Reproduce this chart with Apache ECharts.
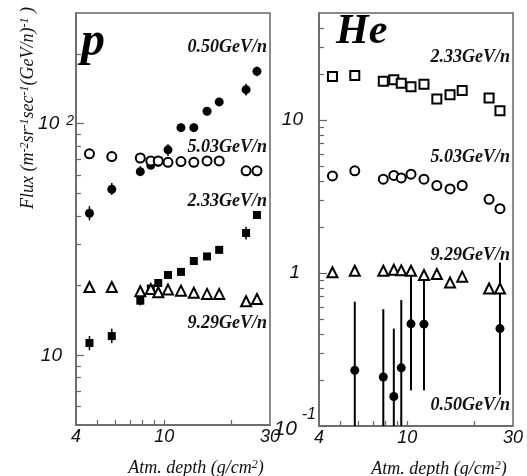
<!DOCTYPE html>
<html>
<head>
<meta charset="utf-8">
<script src="https://cdn.jsdelivr.net/npm/echarts@6/dist/echarts.min.js"></script>
<style>
  html, body { margin: 0; padding: 0; background: #fff; }
  #chart { width: 527px; height: 476px; }
</style>
</head>
<body>
<div id="chart"></div>
<script>
// Atmospheric depth of each measurement (g/cm^2)
const depth = [4.6, 5.8, 7.8, 8.7, 9.4, 10.4, 11.9, 13.6, 15.6, 17.7, 23.4, 26.2];

// Proton flux, m^-2 sr^-1 s^-1 (GeV/n)^-1
const pFlux050   = [41, 52, 62, 66, 68, 77, 96, 96, 113, 124, 140, 168];
const pFlux050Lo = [38.2, 49.2, 59.4, 64.3, 66, 72.5, 92.2, 92.7, 108.6, 119.2, 132, 160];
const pFlux050Hi = [44, 55.4, 65.5, 68.2, 70, 81.5, 99.7, 100.2, 117.6, 129, 148.5, 176];
const pFlux503   = [74, 72, 71, 69, 69, 68, 68.5, 68, 69, 69, 62.5, 62.5];
const pFlux233   = [11.3, 12.1, 17.2, 19.4, 20.5, 22.2, 22.9, 25.5, 26.7, 28.5, 33.7, 40.3];
const pFlux233Lo = [10.5, 11.3, 16.4, 18.9, 20, 21.6, 22.3, 24.8, 26, 27.8, 31.6, 38.8];
const pFlux233Hi = [12.1, 13, 18.1, 19.9, 21, 22.8, 23.5, 26.2, 27.4, 29.2, 35.9, 41.8];
const pFlux929   = [19.7, 19.7, 18.9, 19.3, 18.7, 19.2, 19.0, 18.6, 18.4, 18.4, 17.1, 17.5];

// Helium flux
const heFlux233 = [19.2, 19.5, 17.9, 18.3, 17.4, 16.5, 17.1, 13.7, 14.6, 15.6, 13.9, 11.5];
const heFlux503 = [4.31, 4.65, 4.10, 4.34, 4.18, 4.42, 4.10, 3.73, 3.54, 3.73, 3.03, 2.63];
const heFlux929 = [1.01, 1.035, 1.035, 1.05, 1.04, 1.035, 0.97, 0.985, 0.867, 0.946, 0.792, 0.792];
const heDepth050  = [5.8, 7.8, 8.7, 9.4, 10.4, 11.9, 26.2];
const heFlux050   = [0.231, 0.209, 0.156, 0.240, 0.465, 0.463, 0.433];
const heFlux050Lo = [0.1, 0.1, 0.1, 0.1, 0.171, 0.171, 0.160];
const heFlux050Hi = [0.649, 0.58, 0.433, 0.665, 1.01, 1.0, 1.17];

// Axis ticks and labels
const xLabels = [4, 10, 30];
const xTicks = [5, 6, 7, 8, 9, 10, 20];
const pMajor = [10, 100];
const pMinor = [6, 7, 8, 9, 20, 30, 40, 50, 60, 70, 80, 90, 200];
const heMajor = [0.1, 1, 10];
const heMinor = [0.2, 0.3, 0.4, 0.5, 0.6, 0.7, 0.8, 0.9, 2, 3, 4, 5, 6, 7, 8, 9, 20, 30, 40];

const seriesNames = ['0.50GeV/n', '5.03GeV/n', '2.33GeV/n', '9.29GeV/n'];

const AXIS = '#666';
const SERIF = '"Liberation Serif", "Times New Roman", serif';
const SANS = '"Liberation Sans", Arial, sans-serif';

const pairs = (xs, ys) => xs.map((x, i) => [x, ys[i]]);

function xAxisFor(gridIndex) {
  return {
    type: 'log', gridIndex, min: 4, max: 30, logBase: 10,
    axisLine: { show: true, lineStyle: { color: AXIS, width: 1.5 } },
    axisTick: { show: true, inside: true, length: 5, customValues: xTicks, lineStyle: { color: AXIS, width: 1.2 } },
    minorTick: { show: false },
    splitLine: { show: false },
    axisLabel: {
      customValues: xLabels, margin: 3, color: '#111',
      fontFamily: SANS, fontStyle: 'italic', fontSize: 18
    },
    name: 'Atm. depth (g/cm{s|2})',
    nameLocation: 'middle', nameGap: 34,
    nameTextStyle: {
      fontFamily: SERIF, fontStyle: 'italic', fontSize: 18, color: '#111',
      padding: [0, 0, 0, 46],
      rich: { s: { fontFamily: SERIF, fontSize: 12, verticalAlign: 'top', color: '#111' } }
    }
  };
}

const labelRich = {
  b: { fontFamily: SANS, fontStyle: 'italic', fontSize: 19, color: '#111' },
  s: { fontFamily: SANS, fontStyle: 'italic', fontSize: 14, color: '#111', verticalAlign: 'top', padding: [0, 0, 0, 7] },
  p10: { fontFamily: SANS, fontStyle: 'italic', fontSize: 19, color: '#111', padding: [0, 12, 0, 0] },
  h10: { fontFamily: SANS, fontStyle: 'italic', fontSize: 19, color: '#111', padding: [0, 14, 0, 0] },
  h1: { fontFamily: SANS, fontStyle: 'italic', fontSize: 19, color: '#111', padding: [0, 17, 0, 0] },
  e: { fontFamily: SANS, fontStyle: 'italic', fontSize: 16, color: '#111', lineHeight: 18, padding: [0, 1, 0, 0] },
  t: { fontFamily: SANS, fontStyle: 'italic', fontSize: 21, color: '#111', lineHeight: 22, padding: [0, 20, 12, 0] }
};

function yAxisMajor(gridIndex, min, max, major, fmt) {
  return {
    type: 'log', gridIndex, min, max, logBase: 10, position: 'left',
    axisLine: { show: true, lineStyle: { color: AXIS, width: 1.5 } },
    axisTick: { show: true, inside: true, length: 8, customValues: major, lineStyle: { color: AXIS, width: 1.2 } },
    splitLine: { show: false },
    axisLabel: { customValues: major, margin: 2, formatter: fmt, rich: labelRich }
  };
}
function yAxisMinor(gridIndex, min, max, minor) {
  return {
    type: 'log', gridIndex, min, max, logBase: 10, position: 'left',
    axisLine: { show: false },
    axisTick: { show: true, inside: true, length: 5, customValues: minor, lineStyle: { color: AXIS, width: 1.2 } },
    splitLine: { show: false },
    axisLabel: { show: false }
  };
}

function scatter(xi, yi, data, symbol, size, z) {
  return {
    type: 'scatter', xAxisIndex: xi, yAxisIndex: yi, data,
    symbol, symbolSize: size, z: z || 3,
    itemStyle: { color: '#000', borderColor: '#000', borderWidth: symbol.startsWith('empty') ? 1.5 : 0, opacity: 1 },
    silent: true
  };
}

function errorBars(xi, yi, xs, lo, hi, width) {
  return {
    type: 'custom', xAxisIndex: xi, yAxisIndex: yi,
    data: xs.map((x, i) => [x, lo[i], hi[i]]),
    encode: { x: 0, y: [1, 2] },
    clip: true, z: 2, silent: true,
    renderItem(params, api) {
      const a = api.coord([api.value(0), api.value(1)]);
      const b = api.coord([api.value(0), api.value(2)]);
      return {
        type: 'line',
        shape: { x1: a[0], y1: a[1], x2: b[0], y2: b[1] },
        style: { stroke: '#000', lineWidth: width }
      };
    }
  };
}

function tag(text, right, y) {
  return {
    type: 'text', x: right, y,
    style: {
      text, align: 'right', verticalAlign: 'middle', fill: '#111',
      font: 'italic bold 18px ' + SERIF
    }
  };
}

const option = {
  animation: false,
  backgroundColor: '#fff',
  grid: [
    { left: 76, top: 13, width: 194, height: 412, show: true, borderColor: AXIS, borderWidth: 1.5, backgroundColor: 'transparent', outerBoundsMode: 'none', containLabel: false },
    { left: 319, top: 13, width: 194, height: 413, show: true, borderColor: AXIS, borderWidth: 1.5, backgroundColor: 'transparent', outerBoundsMode: 'none', containLabel: false }
  ],
  xAxis: [xAxisFor(0), xAxisFor(1)],
  yAxis: [
    yAxisMajor(0, 5, 300, pMajor, v => (v === 100 ? '{b|10}{s|2}' : '{p10|10}')),
    yAxisMinor(0, 5, 300, pMinor),
    yAxisMajor(1, 0.1, 50, heMajor, v => (v === 10 ? '{h10|10}' : v === 1 ? '{h1|1}' : '{e|-1}\n{t|10}')),
    yAxisMinor(1, 0.1, 50, heMinor)
  ],
  series: [
    // protons
    errorBars(0, 0, depth, pFlux050Lo, pFlux050Hi, 1.5),
    errorBars(0, 0, depth, pFlux233Lo, pFlux233Hi, 1.5),
    scatter(0, 0, pairs(depth, pFlux050), 'circle', 9),
    scatter(0, 0, pairs(depth, pFlux503), 'emptyCircle', 9),
    scatter(0, 0, pairs(depth, pFlux233), 'rect', 8),
    scatter(0, 0, pairs(depth, pFlux929), 'emptyTriangle', 10),
    // helium
    errorBars(1, 2, heDepth050, heFlux050Lo, heFlux050Hi, 2),
    scatter(1, 2, pairs(heDepth050, heFlux050), 'circle', 9),
    scatter(1, 2, pairs(depth, heFlux503), 'emptyCircle', 9),
    scatter(1, 2, pairs(depth, heFlux233), 'emptyRect', 9),
    scatter(1, 2, pairs(depth, heFlux929), 'emptyTriangle', 10)
  ],
  graphic: [
    {
      type: 'text', x: 28, y: 108, rotation: Math.PI / 2,
      style: {
        text: 'Flux (m{s|-2}sr{s|-1}sec{s|-1}(GeV/n){s|-1} )',
        align: 'center', verticalAlign: 'middle', fill: '#111',
        font: 'italic 18px ' + SERIF,
        rich: {
          s: { fontFamily: SERIF, fontStyle: 'italic', fontSize: 12, verticalAlign: 'top', fill: '#111' }
        }
      }
    },
    { type: 'text', x: 81, y: 19, style: { text: 'p', fill: '#000', font: 'italic bold 48px ' + SERIF, align: 'left', verticalAlign: 'top' } },
    { type: 'text', x: 336, y: 11, style: { text: 'He', fill: '#000', font: 'italic bold 42px ' + SERIF, align: 'left', verticalAlign: 'top' } },
    tag(seriesNames[0], 267, 47),
    tag(seriesNames[1], 267, 147),
    tag(seriesNames[2], 267, 201),
    tag(seriesNames[3], 267, 323),
    tag(seriesNames[2], 510, 57),
    tag(seriesNames[1], 510, 157),
    tag(seriesNames[3], 510, 255),
    tag(seriesNames[0], 510, 405)
  ]
};

const chart = echarts.init(document.getElementById('chart'), null, { renderer: 'canvas' });
chart.setOption(option);
</script>
</body>
</html>
